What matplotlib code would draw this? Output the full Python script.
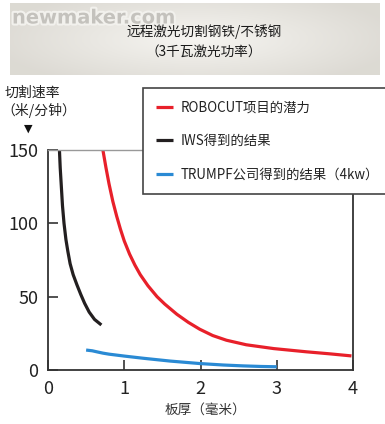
import numpy as np
import matplotlib
matplotlib.use("Agg")
from matplotlib import pyplot as plt
import matplotlib.patheffects as pe

plt.rcParams['font.family'] = ['Noto Sans CJK SC', 'DejaVu Sans']

# data
robocut_x = [0.72, 0.76, 0.80, 0.85, 0.90, 0.95, 1.00, 1.07, 1.14, 1.21, 1.31, 1.43, 1.53,
             1.69, 1.84, 1.99, 2.16, 2.34, 2.60, 2.96, 3.39, 3.70, 3.98]
robocut_y = [150, 138, 127, 115, 105, 96, 88, 79, 71.5, 65, 57.5, 50, 45,
             38, 32.5, 27.8, 23.5, 20.3, 17.2, 14.6, 12.4, 11.0, 9.6]
iws_x = [0.15, 0.16, 0.175, 0.19, 0.21, 0.235, 0.26, 0.29, 0.33, 0.38, 0.43, 0.48, 0.54, 0.61, 0.70]
iws_y = [150, 138, 125, 112, 100, 89, 81, 72.5, 65, 58, 51.5, 45.5, 39.5, 34.5, 30.7]
trumpf_x = [0.50, 0.58, 0.64, 0.72, 0.80, 1.00, 1.25, 1.60, 1.99, 2.30, 2.56, 2.80, 3.00]
trumpf_y = [13.6, 13.1, 12.4, 11.5, 10.8, 9.5, 8.0, 6.1, 4.4, 3.4, 2.8, 2.4, 2.2]

labels = ["ROBOCUT项目的潜力", "IWS得到的结果", "TRUMPF公司得到的结果（4kw）"]
colors = ["#e8202a", "#231f20", "#2a8ad4"]
xticks = [0, 1, 2, 3, 4]
yticks = [0, 50, 100, 150]

W, H = 385, 424
fig = plt.figure(figsize=(W / 100, H / 100), dpi=100)

# title banner with soft grey gradient
bx = fig.add_axes([10 / W, 1 - 75 / H, 370 / W, 72 / H])
gx = np.linspace(-1, 1, 200)
gy = np.linspace(-1, 1, 60)
X, Y = np.meshgrid(gx, gy)
r = np.clip(np.sqrt((X * 0.9) ** 2 + (Y * 0.7) ** 2), 0, 1)
c0 = np.array([0.965, 0.960, 0.945])
c1 = np.array([0.865, 0.855, 0.830])
img = c0[None, None, :] * (1 - r[..., None]) + c1[None, None, :] * r[..., None]
bx.imshow(img, aspect='auto', extent=[0, 1, 0, 1])
bx.set_axis_off()

fig.text(12 / W, 1 - 18 / H, "newmaker.com", fontsize=14, fontweight='bold',
         family='DejaVu Sans', color='#c4c2bd', va='center', ha='left',
         path_effects=[pe.withStroke(linewidth=3, foreground='#f2f1ed')])
fig.text(204 / W, 1 - 32 / H, "远程激光切割钢铁/不锈钢", fontsize=9.8,
         color='#1a1a1a', ha='center', va='center')
fig.text(204 / W, 1 - 52 / H, "（3千瓦激光功率）", fontsize=9.8,
         color='#1a1a1a', ha='center', va='center')

ax = fig.add_axes([48 / W, 1 - 370 / H, 305 / W, 220 / H])
lines = []
for xs, ys, c, lab in zip([robocut_x, iws_x, trumpf_x], [robocut_y, iws_y, trumpf_y], colors, labels):
    ln, = ax.plot(xs, ys, color=c, lw=2.3, label=lab, solid_capstyle='butt',
                  solid_joinstyle='round')
    lines.append(ln)

ax.set_xlim(0, 4)
ax.set_ylim(0, 150)
ax.set_xticks(xticks)
ax.set_yticks(yticks)
ax.tick_params(direction='in', length=7, width=1.2, color='#333333',
               labelsize=13, labelcolor='#222222', pad=7)
for side in ['left', 'bottom', 'right']:
    ax.spines[side].set_color('#333333')
    ax.spines[side].set_linewidth(1.3)
ax.spines['top'].set_color('#999999')
ax.spines['top'].set_linewidth(1.0)

fig.text(5 / W, 1 - 93 / H, "切割速率", fontsize=10, color='#222222', va='center', ha='left')
fig.text(1 / W, 1 - 111 / H, "（米/分钟）", fontsize=10, color='#222222', va='center', ha='left')
fig.text(28 / W, 1 - 129 / H, "▼", fontsize=8, family='DejaVu Sans', color='#111111',
         va='center', ha='center')
fig.text(205 / W, 1 - 410 / H, "板厚（毫米）", fontsize=9.8, color='#333333', va='center', ha='center')

leg = fig.legend(handles=lines, loc='upper left', bbox_to_anchor=(143 / W, 1 - 88 / H),
                 fontsize=9.6, frameon=True, fancybox=False, handlelength=1.3,
                 handletextpad=0.6, labelspacing=1.45, borderpad=0.95, borderaxespad=0)
leg.get_frame().set_edgecolor('#444444')
leg.get_frame().set_linewidth(1.2)
leg.get_frame().set_alpha(1)
for t in leg.get_texts():
    t.set_color('#222222')

fig.savefig("out.png", dpi=100)
